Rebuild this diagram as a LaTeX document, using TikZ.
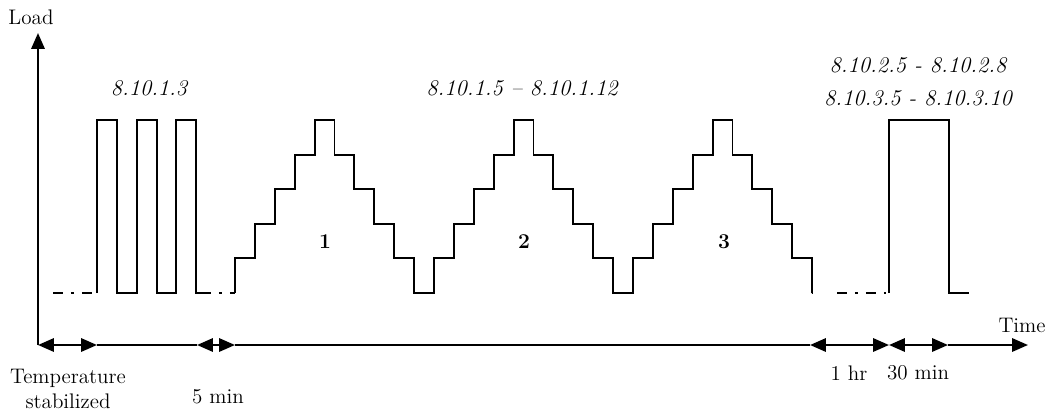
\documentclass[tikz,border=0pt]{standalone}
\usetikzlibrary{arrows.meta}

\begin{document}
\begin{tikzpicture}[x=0.02cm,y=-0.02cm,font=\fontsize{12}{14.5}\selectfont,
    >={Triangle[length=9pt,width=7.5pt]},
    sig/.style={line width=1.1pt},
    idle/.style={line width=1.1pt,dash pattern=on 5.7pt off 4.5pt on 1.7pt off 4.5pt},
    axis/.style={line width=1.3pt},
    code/.style={font=\fontsize{12.8}{15}\selectfont\itshape},
    ramp/.style={font=\fontsize{12}{14.5}\selectfont\bfseries}]
  \useasboundingbox (0,0) rectangle (1047,413);

  % axes
  \coordinate (ytop) at (38,33);
  \coordinate (t0) at (38,345);
  \coordinate (t1) at (97,345);
  \coordinate (t2) at (197,345);
  \coordinate (t3) at (235,345);
  \coordinate (t4) at (810,345);
  \coordinate (t5) at (889,345);
  \coordinate (t6) at (948,345);
  \coordinate (t7) at (1028,345);
  \draw[axis,->] (t0) -- (ytop);
  \draw[axis,<->] (t0) -- (t1);
  \draw[axis] (t1) -- (t2);
  \draw[axis,<->] (t2) -- (t3);
  \draw[axis] (t3) -- (t4);
  \draw[axis,<->] (t4) -- (t5);
  \draw[axis,<->] (t5) -- (t6);
  \draw[axis,->] (t6) -- (t7);
  \node (load) at (31,17) {Load};
  \node (time) at (1022,325) {Time};

  % three short pulses
  \draw[idle] (53,293) -- (92,293);
  \draw[sig] (97,293) -- (97,120) -- (117,120) -- (117,293) -- (137,293)
    -- (137,120) -- (157,120) -- (157,293) -- (176,293) -- (176,120)
    -- (196,120) -- (196,293) -- (201,293);
  \draw[idle] (201,293) -- (235,293);

  % three load ramps
  \draw[sig] (235,293) \foreach \lv [count=\k] in
    {1,2,3,4,5,4,3,2,1,0,1,2,3,4,5,4,3,2,1,0,1,2,3,4,5,4,3,2,1}
    { |- ({235+19.9*\k},{293-34.6*\lv}) } |- (812,293);

  % long pulse
  \draw[idle] (837,293) -- (886,293);
  \draw[sig] (889,293) -- (889,120) -- (949,120) -- (949,293) -- (969,293);

  \node[code] (c1) at (149,88) {8.10.1.3};
  \node[code] (c2) at (522,88) {8.10.1.5 -- 8.10.1.12};
  \node[code] (c3) at (918,65) {8.10.2.5 - 8.10.2.8};
  \node[code] (c4) at (918,98) {8.10.3.5 - 8.10.3.10};
  \node[ramp] (r1) at (325,242) {1};
  \node[ramp] (r2) at (524,242) {2};
  \node[ramp] (r3) at (724,242) {3};

  \node[align=center] (stab) at (68,389) {Temperature\\stabilized};
  \node (wait) at (218,397) {5 min};
  \node (hour) at (849,373) {1 hr};
  \node (hold) at (918,373) {30 min};
\end{tikzpicture}
\end{document}
